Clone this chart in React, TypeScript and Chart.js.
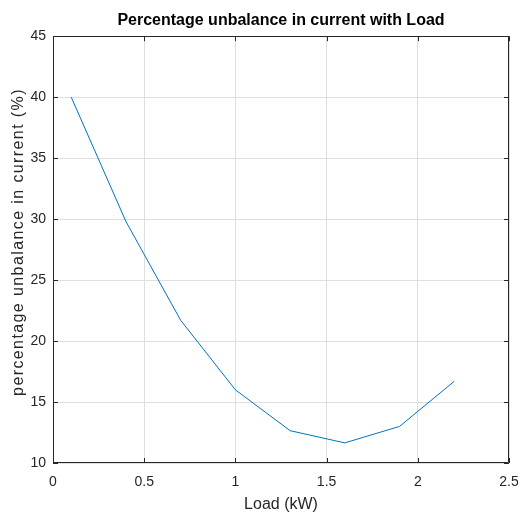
import React, { useEffect, useRef } from "react";
import { Chart, registerables } from "chart.js";

Chart.register(...registerables);

const loadKW = [0.1, 0.4, 0.7, 1.0, 1.3, 1.6, 1.9, 2.2];
const unbalancePct = [40, 29.8, 21.7, 16.0, 12.65, 11.65, 13.0, 16.7];

const titleText = "Percentage unbalance in current with Load";
const xTitle = "Load (kW)";
const yTitle = "percentage unbalance in current (%)";

const FONT = "'Liberation Sans', Arial, Helvetica, sans-serif";
const AXIS_COLOR = "#262626";

const boxPlugin = {
  id: "matlabBox",
  afterDraw(chart: any) {
    const { ctx, chartArea, scales } = chart;
    const { left, right, top, bottom } = chartArea;
    ctx.save();
    ctx.strokeStyle = AXIS_COLOR;
    ctx.lineWidth = 1;
    ctx.beginPath();
    ctx.rect(Math.round(left) + 0.5, Math.round(top) + 0.5, Math.round(right - left) - 1, Math.round(bottom - top) - 1);
    ctx.stroke();
    const tl = 5;
    ctx.beginPath();
    scales.x.ticks.forEach((t: any) => {
      const px = Math.round(scales.x.getPixelForValue(t.value)) + 0.5;
      ctx.moveTo(px, bottom);
      ctx.lineTo(px, bottom - tl);
      ctx.moveTo(px, top);
      ctx.lineTo(px, top + tl);
    });
    scales.y.ticks.forEach((t: any) => {
      const py = Math.round(scales.y.getPixelForValue(t.value)) + 0.5;
      ctx.moveTo(left, py);
      ctx.lineTo(left + tl, py);
      ctx.moveTo(right, py);
      ctx.lineTo(right - tl, py);
    });
    ctx.stroke();
    ctx.restore();

    // rotated y-axis label
    ctx.save();
    ctx.translate(19, 242);
    ctx.rotate(-Math.PI / 2);
    ctx.font = `16px ${FONT}`;
    (ctx as any).letterSpacing = "1.4px";
    ctx.textAlign = "center";
    ctx.textBaseline = "middle";
    ctx.fillStyle = AXIS_COLOR;
    ctx.fillText(yTitle, 0, 0);
    ctx.restore();
  },
};

export default function App() {
  const ref = useRef<HTMLCanvasElement | null>(null);
  useEffect(() => {
    if (!ref.current) return;
    const chart = new Chart(ref.current, {
      type: "line",
      data: {
        datasets: [
          {
            data: loadKW.map((x, i) => ({ x, y: unbalancePct[i] })),
            borderColor: "#0072BD",
            borderWidth: 1,
            pointRadius: 0,
            tension: 0,
            fill: false,
          },
        ],
      },
      options: {
        animation: false,
        responsive: false,
        devicePixelRatio: 1,
        layout: { padding: { top: 0, right: 9, bottom: 0, left: 0 } },
        plugins: {
          legend: { display: false },
          tooltip: { enabled: false },
          title: {
            display: true,
            text: titleText,
            fullSize: false,
            color: "#000",
            font: { family: FONT, size: 16, weight: "bold" },
            padding: { top: 11, bottom: 6 },
          },
        },
        scales: {
          x: {
            type: "linear",
            min: 0,
            max: 2.5,
            afterFit: (s: any) => {
              s.height = 51;
              s.paddingLeft = 0;
              s.paddingRight = 0;
            },
            ticks: {
              stepSize: 0.5,
              color: AXIS_COLOR,
              font: { family: FONT, size: 14 },
              padding: 11,
              maxRotation: 0,
              autoSkip: false,
              callback: (v: any) => `${Number(v)}`,
            },
            grid: { color: "#dfdfdf", drawTicks: false },
            border: { display: false },
            title: {
              display: true,
              text: xTitle,
              color: AXIS_COLOR,
              font: { family: FONT, size: 16 },
              padding: { top: 0, bottom: 0 },
            },
          },
          y: {
            type: "linear",
            min: 10,
            max: 45,
            afterFit: (s: any) => {
              s.width = 53;
              s.paddingTop = 0;
              s.paddingBottom = 0;
            },
            ticks: {
              stepSize: 5,
              color: AXIS_COLOR,
              font: { family: FONT, size: 14 },
              padding: 7,
              callback: (v: any) => `${Number(v)}`,
            },
            grid: { color: "#dfdfdf", drawTicks: false },
            border: { display: false },
            title: { display: false },
          },
        },
      },
      plugins: [boxPlugin],
    } as any);
    return () => chart.destroy();
  }, []);
  return (
    <div style={{ position: "fixed", left: 0, top: 0, width: 518, height: 514, background: "#fff" }}>
      <canvas ref={ref} width={518} height={514} style={{ display: "block" }} />
    </div>
  );
}
